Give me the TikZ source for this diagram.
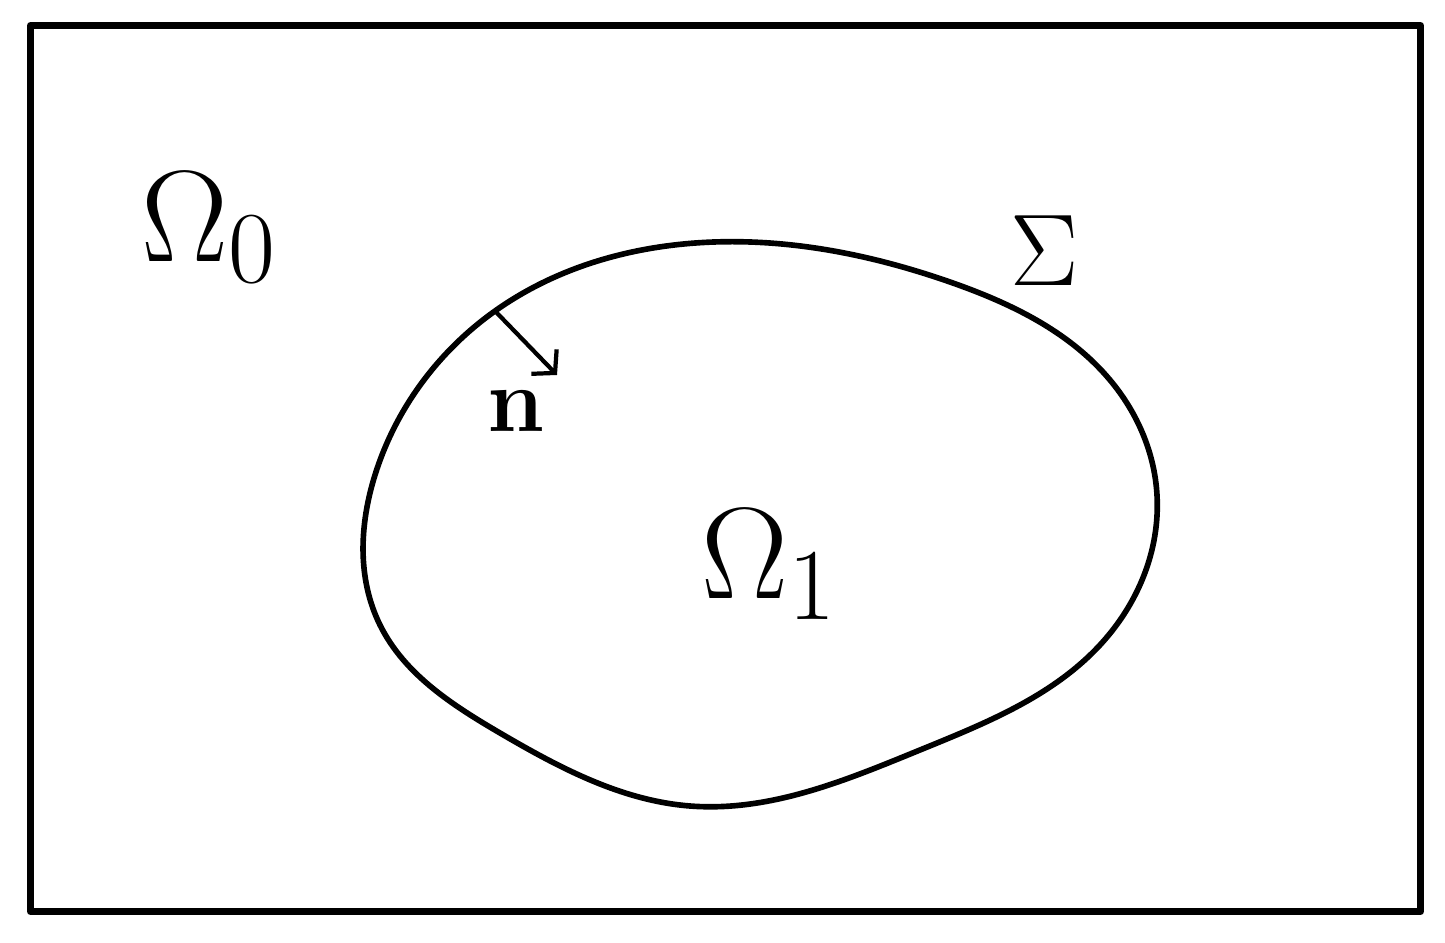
\RequirePackage{fix-cm}
\documentclass[tikz,border=0pt]{standalone}
\usepackage{amsmath}
\usepackage{tikz}
\usetikzlibrary{positioning,calc,arrows.meta,hobby}
\DeclareMathSizes{37}{37}{29}{21}
\DeclareMathSizes{29}{29}{22}{16}
\DeclareMathSizes{26}{26}{20}{14}

\begin{document}
\begin{tikzpicture}[
x=0.01cm, y=-0.01cm,
frame/.style={
  draw,
  line width=2pt,
  line join=round,
  },
boundary/.style={
  draw,
  line width=1.6pt,
  use Hobby shortcut,
  closed=true,
  },
normal/.style={
  -{Straight Barb[length=4.5pt,width=10pt,line width=1.2pt]},
  line width=1.2pt,
  },
lbl/.style={
  inner sep=0pt,
  anchor=base west,
  font=\fontsize{37}{44}\selectfont
  }
]
\useasboundingbox (0,0) rectangle (1445,943);
\draw[frame] (30.5,25.5) rectangle (1420.5,911.5);

% interface
\draw[boundary] (714,242) .. (950,282) .. (1110,380) .. (1157,495)
  .. (1100,645) .. (920,750) .. (690,806) .. (500,733) .. (380,625)
  .. (375,475) .. (495,311);

\coordinate (foot) at (496,312);
\coordinate (tip) at (557,375);
\draw[normal] (foot) -- (tip);

\node[lbl] (omega0) at (141,262) {$\Omega_0$};
\node[lbl] (omega1) at (701,599) {$\Omega_1$};
\node[lbl, font=\fontsize{29}{35}\selectfont] (sigma) at (1010,286) {$\Sigma$};
\node[lbl, font=\fontsize{26}{31}\selectfont] (nvec) at (487,432) {$\mathbf{n}$};

\end{tikzpicture}
\end{document}
